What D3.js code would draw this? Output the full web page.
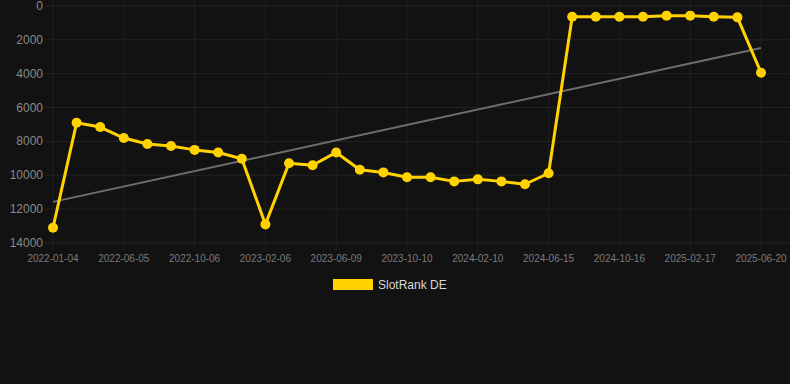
<!DOCTYPE html>
<html>
<head>
<meta charset="utf-8">
<script src="https://cdn.jsdelivr.net/npm/d3@7"></script>
<style>
  html, body { margin: 0; padding: 0; background: #121212; }
  #chart { width: 790px; height: 384px; }
</style>
</head>
<body>
<div id="chart"></div>
<script>
// dates (category axis, every 3rd label shown)
const dates = [
  "2022-01-04", "2022-02-24", "2022-04-15", "2022-06-05", "2022-07-16", "2022-08-26",
  "2022-10-06", "2022-11-16", "2022-12-27", "2023-02-06", "2023-03-19", "2023-04-29",
  "2023-06-09", "2023-07-20", "2023-08-30", "2023-10-10", "2023-11-20", "2023-12-31",
  "2024-02-10", "2024-03-22", "2024-05-03", "2024-06-15", "2024-07-26", "2024-09-05",
  "2024-10-16", "2024-11-26", "2025-01-06", "2025-02-17", "2025-03-30", "2025-05-10",
  "2025-06-20"
];
// rank values
const ranks = [
  13100, 6900, 7150, 7800, 8150, 8270, 8500, 8650, 9020, 12900,
  9290, 9410, 8650, 9670, 9830, 10120, 10120, 10360, 10240, 10360,
  10530, 9880, 630, 630, 630, 630, 570, 570, 630, 670, 3940
];
const yTicks = [0, 2000, 4000, 6000, 8000, 10000, 12000, 14000];
const seriesName = "SlotRank DE";

const width = 790, height = 384;
const svg = d3.select("#chart").append("svg")
  .attr("width", width)
  .attr("height", height)
  .style("font-family", "Arial, 'Liberation Sans', sans-serif");

const x = d3.scalePoint()
  .domain(dates)
  .range([53, 761]);

// reversed: 0 at top
const y = d3.scaleLinear()
  .domain([0, 14000])
  .range([6, 243]);

// horizontal grid
svg.append("g")
  .selectAll("line")
  .data(yTicks)
  .enter()
  .append("line")
  .attr("x1", 45)
  .attr("x2", width)
  .attr("y1", d => y(d))
  .attr("y2", d => y(d))
  .attr("stroke", "#242424")
  .attr("stroke-width", 1);

// vertical grid at labelled dates
const shownDates = dates.filter((d, i) => i % 3 === 0);
svg.append("g")
  .selectAll("line")
  .data(shownDates)
  .enter()
  .append("line")
  .attr("x1", d => x(d))
  .attr("x2", d => x(d))
  .attr("y1", 0)
  .attr("y2", 251)
  .attr("stroke", "#1f1f1f")
  .attr("stroke-width", 1);

// Y-Achse labels
svg.append("g")
  .selectAll("text")
  .data(yTicks)
  .enter()
  .append("text")
  .attr("x", 43)
  .attr("y", d => y(d) + 4)
  .attr("text-anchor", "end")
  .style("font-size", "12px")
  .style("fill", "#8a8a8a")
  .text(d => d);

// X-Achse labels
svg.append("g")
  .selectAll("text")
  .data(shownDates)
  .enter()
  .append("text")
  .attr("x", d => x(d))
  .attr("y", 262)
  .attr("text-anchor", "middle")
  .style("font-size", "10px")
  .style("fill", "#7a7a7a")
  .text(d => d);

// Trendlinie (lineare Regression)
const n = ranks.length;
const idx = d3.range(n);
const mx = d3.mean(idx), my = d3.mean(ranks);
const slope = d3.sum(idx, i => (i - mx) * (ranks[i] - my)) / d3.sum(idx, i => (i - mx) * (i - mx));
const intercept = my - slope * mx;
svg.append("line")
  .attr("x1", x(dates[0]))
  .attr("x2", x(dates[n - 1]))
  .attr("y1", y(intercept))
  .attr("y2", y(intercept + slope * (n - 1)))
  .attr("stroke", "#6e6e6e")
  .attr("stroke-width", 2);

// Linie
const line = d3.line()
  .x((d, i) => x(dates[i]))
  .y(d => y(d));

svg.append("path")
  .datum(ranks)
  .attr("d", line)
  .attr("fill", "none")
  .attr("stroke", "#ffd200")
  .attr("stroke-width", 3)
  .attr("stroke-linejoin", "round");

svg.append("g")
  .selectAll("circle")
  .data(ranks)
  .enter()
  .append("circle")
  .attr("cx", (d, i) => x(dates[i]))
  .attr("cy", d => y(d))
  .attr("r", 5)
  .attr("fill", "#ffd200");

// Legende
const legend = svg.append("g").attr("transform", "translate(333, 279)");
legend.append("rect")
  .attr("width", 40)
  .attr("height", 11)
  .attr("fill", "#ffd200");
legend.append("text")
  .attr("x", 45)
  .attr("y", 10)
  .style("font-size", "12px")
  .style("fill", "#d8d8d8")
  .text(seriesName);
</script>
</body>
</html>
